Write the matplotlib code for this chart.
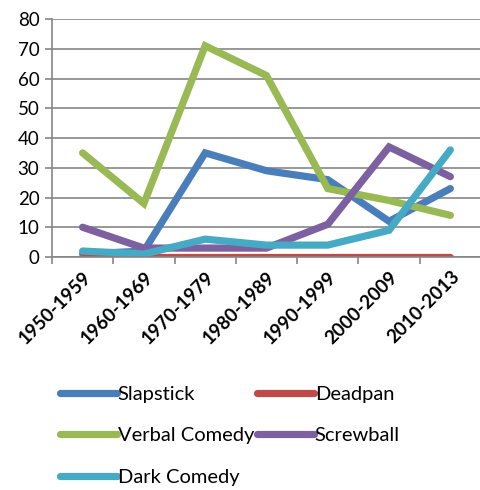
import matplotlib.pyplot as plt
import numpy as np

plt.rcParams['font.family'] = ['Lato', 'DejaVu Sans']

periods = ["1950-1959", "1960-1969", "1970-1979", "1980-1989",
           "1990-1999", "2000-2009", "2010-2013"]
slapstick = [1, 2, 35, 29, 26, 12, 23]
deadpan = [0, 0, 0, 0, 0, 0, 0]
verbal = [35, 18, 71, 61, 23, 19, 14]
screwball = [10, 3, 3, 3, 11, 37, 27]
dark = [2, 1, 6, 4, 4, 9, 36]

series = [("Slapstick", slapstick, "#4a7ebb"),
          ("Deadpan", deadpan, "#be4b48"),
          ("Verbal Comedy", verbal, "#98b954"),
          ("Screwball", screwball, "#7d60a0"),
          ("Dark Comedy", dark, "#46aac5")]

fig = plt.figure(figsize=(4.81, 4.9), dpi=100)
ax = fig.add_axes([0.108, 0.4755, 0.892 * 1.0, 0.4857])

x = np.arange(len(periods))
for name, vals, col in series:
    ax.plot(x, vals, color=col, lw=5.2, solid_capstyle='round',
            solid_joinstyle='miter', label=name)

ax.set_xlim(-0.5, 6.5)
ax.set_ylim(0, 80)
ax.set_yticks(range(0, 81, 10))
ax.yaxis.grid(True, color='#868686', lw=1.2)
ax.set_axisbelow(True)
for s in ['top', 'right']:
    ax.spines[s].set_visible(False)
ax.spines['left'].set_color('#868686')
ax.spines['bottom'].set_color('#868686')
ax.spines['left'].set_linewidth(1.2)
ax.spines['bottom'].set_linewidth(1.2)
ax.set_xticks(x)
ax.set_xticklabels(periods, rotation=45, ha='right', rotation_mode='anchor',
                   fontsize=13.5, fontweight='bold')
ax.tick_params(axis='x', length=0, pad=8)
ax.set_xticks(np.arange(-0.5, 7, 1), minor=True)
ax.tick_params(axis='x', which='minor', length=5, color='#868686', width=1.2)
ax.tick_params(axis='y', length=5, color='#868686', width=1.2, labelsize=13.5, pad=4)

handles, labels = ax.get_legend_handles_labels()
order = [0, 2, 4, 1, 3]
fig.legend([handles[i] for i in order], [labels[i] for i in order],
           loc='upper left', bbox_to_anchor=(0.088, 0.25), ncol=2,
           frameon=False, fontsize=14.5, handlelength=2.8, handletextpad=0.05,
           columnspacing=0.15, labelspacing=1.22)

fig.savefig("out.png", dpi=100)
